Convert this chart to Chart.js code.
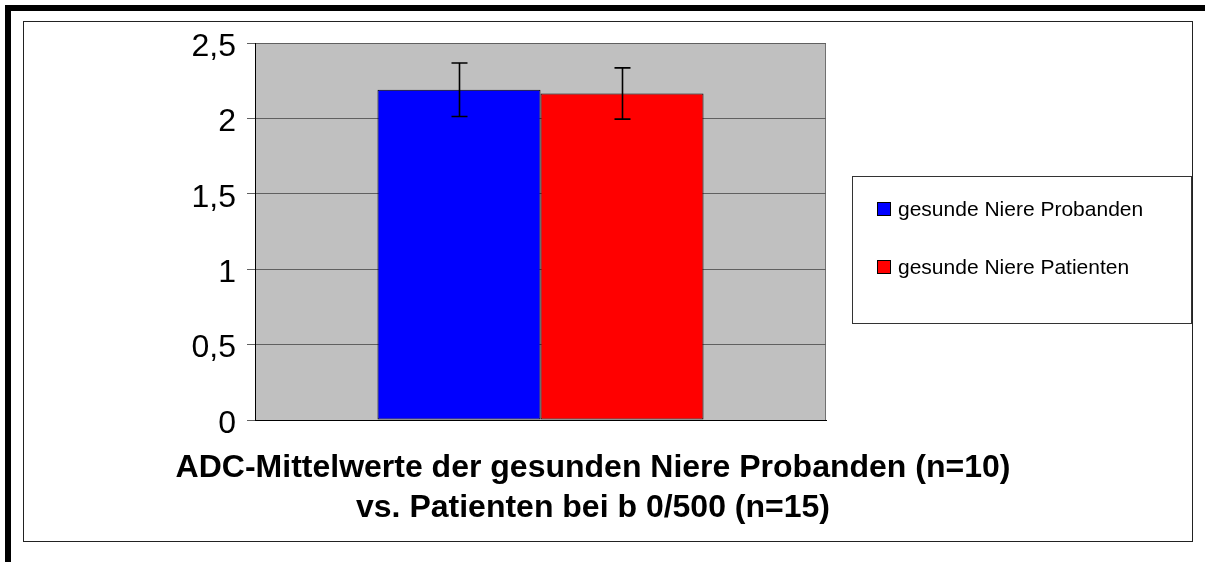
<!DOCTYPE html>
<html>
<head>
<meta charset="utf-8">
<script src="https://cdn.jsdelivr.net/npm/chart.js@4"></script>
<style>
  body { margin: 0; background: #fff; }
  #outer { position: absolute; left: 5px; top: 5px; width: 1210px; height: 570px;
           border-top: 6px solid #000; border-left: 6px solid #000; }
  #frame { position: absolute; left: 23px; top: 21px; width: 1168px; height: 519px;
           border: 1px solid #222; }
  #myChart { display: block; }
</style>
</head>
<body>
<div id="outer"></div>
<div id="frame"><canvas id="myChart" width="1168" height="519"></canvas></div>
<script>
var categories = [''];
var seriesNames = ['gesunde Niere Probanden', 'gesunde Niere Patienten'];
var seriesValues = [2.19, 2.165];
var seriesErrors = [0.177, 0.17];
var yTicks = [0, 0.5, 1, 1.5, 2, 2.5];
var yTickLabels = ['0', '0,5', '1', '1,5', '2', '2,5'];
var titleLines = ['ADC-Mittelwerte der gesunden Niere Probanden (n=10)', 'vs. Patienten bei b 0/500 (n=15)'];

var barColors = ['#0000ff', '#ff0000'];
var fontName = '"Liberation Sans", Arial, sans-serif';

// grey plot background + right border
var plotBg = {
    id: 'plotBg',
    beforeDraw: function(chart) {
        var a = chart.chartArea, c = chart.ctx;
        c.save();
        c.fillStyle = '#c0c0c0';
        c.fillRect(a.left, a.top, a.right - a.left, a.bottom - a.top);
        c.strokeStyle = '#707070';
        c.lineWidth = 1;
        c.beginPath();
        c.moveTo(Math.round(a.right) - 0.5, a.top);
        c.lineTo(Math.round(a.right) - 0.5, a.bottom);
        c.stroke();
        c.restore();
    }
};

// error bars
var errBars = {
    id: 'errBars',
    afterDatasetsDraw: function(chart) {
        var c = chart.ctx, ys = chart.scales.y;
        c.save();
        c.strokeStyle = '#000';
        c.lineWidth = 1.6;
        chart.data.datasets.forEach(function(ds, i) {
            var meta = chart.getDatasetMeta(i);
            meta.data.forEach(function(bar, j) {
                var v = ds.data[j], e = ds.errors[j];
                var x = Math.round(bar.x) + 0.5;
                var yt = ys.getPixelForValue(v + e), yb = ys.getPixelForValue(v - e);
                c.beginPath();
                c.moveTo(x, yt); c.lineTo(x, yb);
                c.moveTo(x - 8, yt); c.lineTo(x + 8, yt);
                c.moveTo(x - 8, yb); c.lineTo(x + 8, yb);
                c.stroke();
            });
        });
        c.restore();
    }
};

// boxed legend right of the plot
var boxLegend = {
    id: 'boxLegend',
    afterDraw: function(chart) {
        var a = chart.chartArea, c = chart.ctx;
        var left = Math.round(a.right) + 26, top = Math.round(a.top) + 133;
        c.save();
        c.strokeStyle = '#333';
        c.lineWidth = 1;
        c.strokeRect(left + 0.5, top + 0.5, chart.width - left - 1, 147);
        c.font = '21px ' + fontName;
        c.textBaseline = 'middle';
        c.fillStyle = '#000';
        chart.data.datasets.forEach(function(ds, i) {
            var sy = top + 26 + i * 58;
            c.fillStyle = ds.backgroundColor;
            c.fillRect(left + 25, sy, 14, 14);
            c.strokeStyle = '#000';
            c.strokeRect(left + 25.5, sy + 0.5, 13, 13);
            c.fillStyle = '#000';
            c.fillText(ds.label, left + 46, sy + 8);
        });
        c.restore();
    }
};

var ctx = document.getElementById('myChart');
var myChart = new Chart(ctx, {
    type: 'bar',
    data: {
        labels: categories,
        datasets: seriesNames.map(function(name, i) {
            return {
                label: name,
                data: [seriesValues[i]],
                errors: [seriesErrors[i]],
                backgroundColor: barColors[i],
                borderColor: '#000',
                borderWidth: 1,
                borderSkipped: false,
                barPercentage: 1,
                categoryPercentage: 0.571
            };
        })
    },
    options: {
        responsive: false,
        animation: false,
        devicePixelRatio: 1,
        layout: { padding: { left: 0, right: 30, top: 21, bottom: 0 } },
        plugins: {
            legend: { display: false },
            tooltip: { enabled: false },
            title: {
                display: true,
                position: 'bottom',
                text: titleLines,
                color: '#000',
                font: { family: fontName, size: 32, weight: 'bold', lineHeight: 1.25 },
                padding: { top: 28, bottom: 13 }
            }
        },
        scales: {
            x: {
                grid: { display: false, drawTicks: false },
                ticks: { display: false },
                border: { display: true, color: '#000', width: 1 }
            },
            y: {
                min: 0,
                max: 2.5,
                ticks: {
                    stepSize: 0.5,
                    padding: 11,
                    labelOffset: 4,
                    color: '#000',
                    font: { family: fontName, size: 32 },
                    callback: function(value) {
                        var k = yTicks.indexOf(value);
                        return k >= 0 ? yTickLabels[k] : '';
                    }
                },
                grid: { color: '#606060', tickColor: '#606060', tickLength: 8, lineWidth: 1 },
                border: { display: true, color: '#000', width: 1 },
                afterFit: function(s) { s.width = 231; s.paddingTop = 0; s.paddingBottom = 0; }
            },
            yR: {
                position: 'right',
                display: true,
                grid: { display: false, drawTicks: false },
                ticks: { display: false },
                border: { display: false },
                afterFit: function(s) { s.width = 336; }
            }
        }
    },
    plugins: [plotBg, errBars, boxLegend]
});
</script>
</body>
</html>
